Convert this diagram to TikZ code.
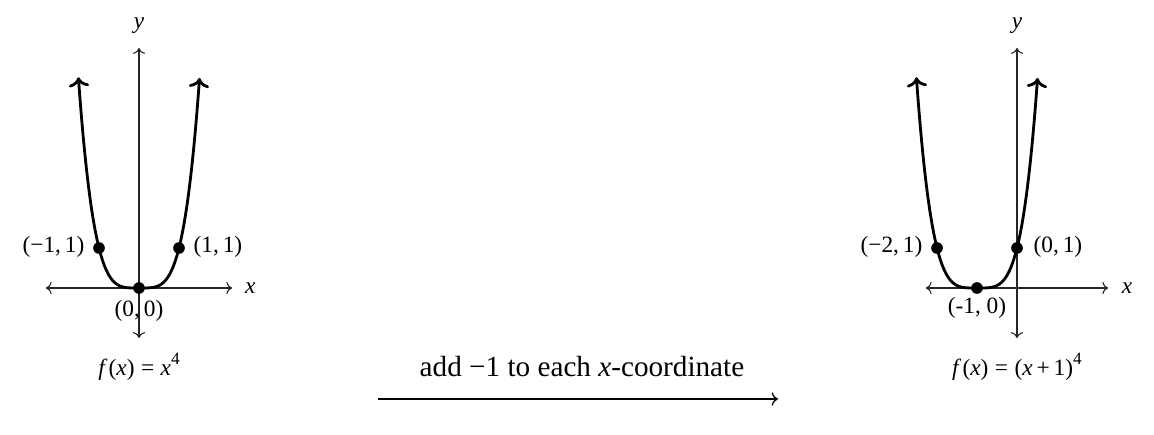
\documentclass[tikz,border=0pt]{standalone}
\usepackage{fontspec}
\setmainfont{Liberation Serif}
\usetikzlibrary{arrows.meta}
\newcommand{\iv}[1]{\textit{#1}}
\newcommand{\supr}[1]{\raisebox{0.45em}{\footnotesize #1}}
\begin{document}
\begin{tikzpicture}[x=0.65cm,y=0.65cm,
  axis/.style={<->, line width=0.5pt, black!85},
  curve/.style={<->, line width=1.3pt, black},
  dot/.style={circle, fill=black, inner sep=0pt, minimum size=0.19cm},
  lbl/.style={font=\fontsize{10.8}{13}\selectfont, inner sep=1pt},
  bigtxt/.style={font=\fontsize{13.5}{16}\selectfont}]
\useasboundingbox (-3.475,-3.675) rectangle (25.375,7.2);
% ---------- left graph ----------
\coordinate (lxl) at (-2.33,0);
\coordinate (lxr) at (2.33,0);
\coordinate (lyb) at (0,-1.25);
\coordinate (lyt) at (0,6.0);
\draw[axis] (lxl) -- (lxr);
\draw[axis] (lyb) -- (lyt);
\node[lbl] (lxlab) at (2.78,0) {\iv{x}};
\node[lbl] (lylab) at (0,6.55) {\iv{y}};
\draw[curve] plot[domain=-1.515:1.515, samples=120, smooth] (\x,{(\x)^4});
\node[dot] (lp1) at (-1,1) {};
\node[dot] (lp2) at (1,1) {};
\node[dot] (lp0) at (0,0) {};
\node[lbl, anchor=east] (lp1lab) at (-1.3,1.02) {(−1,\,1)};
\node[lbl, anchor=west] (lp2lab) at (1.3,1.02) {(1,\,1)};
\node[lbl] (lp0lab) at (0,-0.58) {(0,\,0)};
\node[lbl] (lfun) at (0,-1.97) {\iv{f}\kern0.05em(\iv{x})\;=\;\iv{x}\supr{4}};
% ---------- right graph ----------
\begin{scope}[shift={(21.95,0)}]
\coordinate (rxl) at (-2.28,0);
\coordinate (rxr) at (2.28,0);
\coordinate (ryb) at (0,-1.25);
\coordinate (ryt) at (0,6.0);
\draw[axis] (rxl) -- (rxr);
\draw[axis] (ryb) -- (ryt);
\node[lbl] (rxlab) at (2.75,0) {\iv{x}};
\node[lbl] (rylab) at (0,6.55) {\iv{y}};
\draw[curve] plot[domain=-2.515:0.515, samples=120, smooth] (\x,{(\x+1)^4});
\node[dot] (rp1) at (-2,1) {};
\node[dot] (rp2) at (0,1) {};
\node[dot] (rp0) at (-1,0) {};
\node[lbl, anchor=east] (rp1lab) at (-2.3,1.02) {(−2,\,1)};
\node[lbl, anchor=west] (rp2lab) at (0.35,1.02) {(0,\,1)};
\node[lbl] (rp0lab) at (-1,-0.5) {(-1, 0)};
\node[lbl] (rfun) at (0,-1.97) {\iv{f}\kern0.05em(\iv{x})\;=\;(\iv{x}\,+\,1)\supr{4}};
\end{scope}
% ---------- middle arrow ----------
\coordinate (ma) at (5.975,-2.775);
\coordinate (mb) at (15.975,-2.775);
\draw[->, line width=0.6pt] (ma) -- (mb);
\node[bigtxt] (mtxt) at (11.075,-1.97) {add −1 to each \iv{x}-coordinate};
\end{tikzpicture}
\end{document}
